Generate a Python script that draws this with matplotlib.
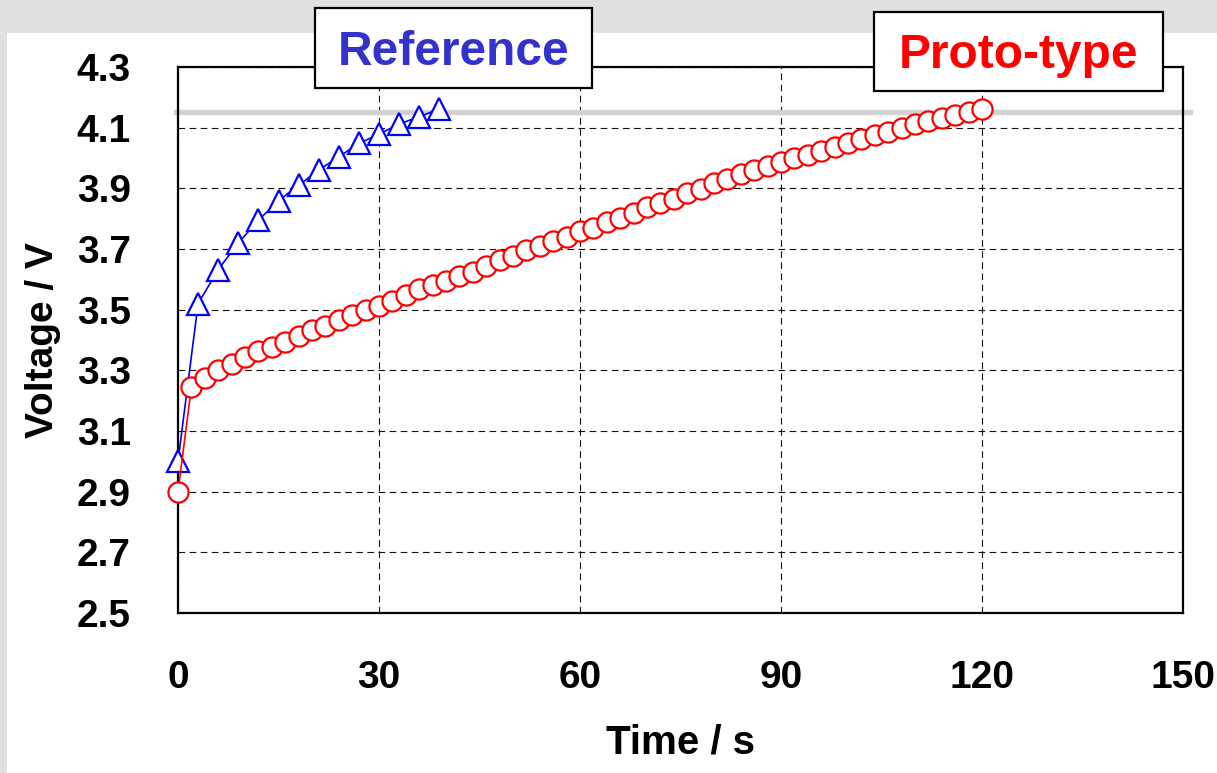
import numpy as np
import matplotlib
matplotlib.use('Agg')
from matplotlib import pyplot as plt
from matplotlib.patches import Rectangle

# charge curves
ref_time = [0, 3, 6, 9, 12, 15, 18, 21, 24, 27, 30, 33, 36, 39]
ref_volt = [3.00, 3.52, 3.632, 3.72, 3.795, 3.859, 3.91, 3.96, 4.004, 4.048,
            4.079, 4.112, 4.136, 4.162]

proto_time = list(range(0, 122, 2))
proto_volt = [2.900, 3.245, 3.275, 3.300, 3.320, 3.345, 3.364, 3.378, 3.393, 3.413,
              3.432, 3.445, 3.465, 3.481, 3.498, 3.513, 3.530, 3.548, 3.567, 3.580,
              3.595, 3.611, 3.624, 3.644, 3.665, 3.677, 3.696, 3.709, 3.727, 3.740,
              3.760, 3.770, 3.790, 3.803, 3.820, 3.839, 3.853, 3.866, 3.885, 3.897,
              3.916, 3.930, 3.948, 3.962, 3.973, 3.986, 4.000, 4.010, 4.024, 4.037,
              4.050, 4.061, 4.075, 4.086, 4.100, 4.112, 4.123, 4.131, 4.142, 4.153,
              4.161]

cutoff_volt = 4.15
x_ticks = [0, 30, 60, 90, 120, 150]
y_ticks = [2.5, 2.7, 2.9, 3.1, 3.3, 3.5, 3.7, 3.9, 4.1, 4.3]

plt.rcParams['font.family'] = ['Liberation Sans', 'DejaVu Sans']
plt.rcParams['font.weight'] = 'bold'

W, H = 1217, 773
fig = plt.figure(figsize=(W / 100, H / 100), dpi=100, facecolor='#e0e0e0')
# white slide area
fig.patches.append(Rectangle((7 / W, 0), 1 - 7 / W, 1 - 33 / H, transform=fig.transFigure,
                             facecolor='white', edgecolor='none', zorder=-5))

ax = fig.add_axes([178 / W, 1 - 613 / H, (1183 - 178) / W, (613 - 67) / H])
ax.set_xlim(0, 150)
ax.set_ylim(2.5, 4.3)
ax.set_xticks(x_ticks)
ax.set_yticks(y_ticks)
ax.tick_params(length=0, labelsize=28, pad=34)
for lbl in ax.get_xticklabels() + ax.get_yticklabels():
    lbl.set_fontweight('bold')
ax.grid(True, color='#111111', linestyle=(0, (6, 4)), linewidth=0.8)
ax.set_axisbelow(True)
for s in ax.spines.values():
    s.set_linewidth(1.6)

ax.plot([-0.3, 151], [cutoff_volt, cutoff_volt], color='#d2d2d2', linewidth=3.8,
        clip_on=False, zorder=2)

ax.plot(ref_time, ref_volt, color='#0000ff', linewidth=1.2, marker='^', markersize=16,
        markerfacecolor='white', markeredgecolor='#0000ff', markeredgewidth=1.6,
        clip_on=False, zorder=3)
ax.plot(proto_time, proto_volt, color='#ff0000', linewidth=1.2, marker='o', markersize=14.5,
        markerfacecolor='white', markeredgecolor='#ff0000', markeredgewidth=1.6,
        clip_on=False, zorder=4)

ax.set_xlabel('Time / s', fontsize=29, fontweight='bold', labelpad=20)
ax.set_ylabel('Voltage / V', fontsize=28, fontweight='bold', labelpad=11)

# label boxes on top
for x0, x1, y0, y1, txt, col, base in [(315, 592, 8, 88, 'Reference', '#3333cc', 65),
                                        (874, 1163, 12, 91, 'Proto-type', '#ff0000', 68)]:
    fig.patches.append(Rectangle((x0 / W, 1 - y1 / H), (x1 - x0) / W, (y1 - y0) / H,
                                 transform=fig.transFigure, facecolor='white',
                                 edgecolor='black', linewidth=1.6, zorder=5))
    fig.text((x0 + x1) / 2 / W, 1 - base / H, txt, color=col, fontsize=34.5,
             fontweight='bold', ha='center', va='baseline', zorder=6)

fig.savefig('out.png', dpi=100, facecolor=fig.get_facecolor())
